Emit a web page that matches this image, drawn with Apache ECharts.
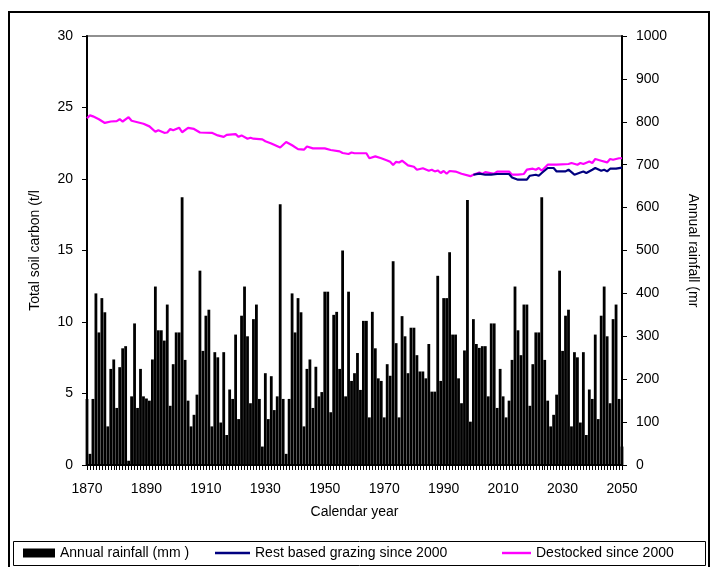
<!DOCTYPE html>
<html>
<head>
<meta charset="utf-8">
<script src="https://cdn.jsdelivr.net/npm/echarts@6/dist/echarts.min.js"></script>
<style>
html,body{margin:0;padding:0;background:#fff;}
#chart{width:714px;height:567px;}
</style>
</head>
<body>
<div id="chart"></div>
<script>
// 年份与降雨量 (mm)
var firstYear = 1870;
var rainfall = [
	154, 26, 154, 400, 309, 389, 356, 90, 224, 246,
	133, 228, 272, 277, 10, 160, 330, 133, 224, 160,
	155, 150, 246, 416, 314, 314, 290, 374, 138, 235,
	309, 309, 624, 245, 150, 90, 117, 164, 453, 266,
	348, 362, 90, 263, 251, 99, 263, 70, 176, 154,
	304, 107, 348, 416, 300, 144, 340, 374, 154, 43,
	214, 107, 207, 128, 160, 608, 154, 26, 154, 400,
	309, 389, 356, 90, 224, 246, 133, 229, 160, 170,
	404, 404, 123, 350, 357, 224, 500, 160, 404, 196,
	214, 261, 175, 336, 336, 111, 357, 272, 202, 196,
	111, 235, 208, 475, 284, 111, 347, 300, 214, 320,
	320, 256, 218, 218, 202, 282, 171, 171, 441, 196,
	389, 389, 496, 304, 304, 202, 144, 267, 618, 101,
	340, 282, 273, 277, 277, 160, 330, 330, 133, 224,
	160, 111, 150, 245, 416, 314, 256, 374, 374, 138,
	235, 309, 309, 624, 245, 150, 90, 117, 164, 453,
	266, 348, 362, 90, 263, 251, 99, 263, 70, 176,
	154, 304, 107, 348, 416, 300, 144, 340, 374, 154,
	43
];

// 土壤碳 (t/ha) —— 读图得到的点
var destockYears = [1870, 1871, 1872, 1874, 1876, 1878, 1880, 1881, 1882, 1884,
	1885, 1887, 1889, 1891, 1893, 1894, 1896, 1897, 1898, 1899,
	1901, 1902, 1904, 1906, 1908, 1912, 1914, 1916, 1917, 1920,
	1921, 1922, 1924, 1925, 1926, 1929, 1930, 1932, 1935, 1937,
	1939, 1941, 1943, 1944, 1946, 1950, 1952, 1955, 1956, 1958,
	1959, 1960, 1962, 1964, 1965, 1967, 1969, 1971, 1972, 1973,
	1974, 1975, 1976, 1978, 1980, 1981, 1983, 1985, 1986, 1987,
	1988, 1989, 1990, 1991, 1992, 1994, 1996, 1999, 2000, 2002,
	2003, 2004, 2007, 2008, 2012, 2013, 2015, 2017, 2018, 2020,
	2021, 2022, 2023, 2025, 2028, 2032, 2033, 2035, 2036, 2037,
	2039, 2040, 2041, 2043, 2045, 2046, 2047, 2049, 2050];
var destockCarbon = [24.25, 24.45, 24.38, 24.18, 23.92, 24.02, 24.05, 24.18, 24.02, 24.32,
	24.07, 23.97, 23.86, 23.68, 23.3, 23.41, 23.23, 23.25, 23.5, 23.41,
	23.59, 23.27, 23.57, 23.5, 23.25, 23.23, 23.05, 22.95, 23.09, 23.14,
	22.95, 23.05, 22.82, 22.89, 22.82, 22.77, 22.64, 22.48, 22.2, 22.59,
	22.36, 22.09, 22.05, 22.27, 22.14, 22.14, 22.03, 21.93, 21.82, 21.75,
	21.85, 21.8, 21.8, 21.8, 21.45, 21.58, 21.45, 21.3, 21.2, 20.98,
	21.2, 21.15, 21.28, 20.95, 20.86, 20.65, 20.75, 20.58, 20.65, 20.53,
	20.6, 20.42, 20.56, 20.37, 20.56, 20.52, 20.37, 20.2, 20.3, 20.45,
	20.35, 20.48, 20.37, 20.52, 20.52, 20.3, 20.3, 20.35, 20.65, 20.72,
	20.65, 20.77, 20.58, 21.0, 21.0, 21.05, 21.12, 21.0, 21.12, 21.05,
	21.22, 21.12, 21.4, 21.28, 21.16, 21.4, 21.35, 21.45, 21.45];

var restYears = [2000, 2002, 2004, 2006, 2008, 2012, 2013, 2015, 2018, 2019,
	2021, 2022, 2023, 2025, 2027, 2028, 2031, 2032, 2034, 2036,
	2037, 2038, 2040, 2041, 2043, 2044, 2045, 2046, 2048, 2050];
var restCarbon = [20.3, 20.38, 20.3, 20.3, 20.35, 20.35, 20.11, 19.95, 19.95, 20.23,
	20.3, 20.23, 20.42, 20.77, 20.77, 20.53, 20.53, 20.65, 20.3, 20.46,
	20.53, 20.42, 20.65, 20.77, 20.58, 20.65, 20.53, 20.72, 20.72, 20.8];

var FONT = "'Liberation Sans', Arial, sans-serif";

function pairs(xs, ys) {
	var out = [];
	for (var i = 0; i < xs.length; i++) {
		out.push([xs[i], ys[i]]);
	}
	return out;
}
//不要千位分隔符
function plainNum(v) {
	return String(v);
}

var rainData = [];
for (var i = 0; i < rainfall.length; i++) {
	rainData.push([firstYear + i, rainfall[i]]);
}

var myChart = echarts.init(document.getElementById('chart'), null, {renderer: 'canvas'});

var legendText = {fontFamily: FONT, fontSize: 14, color: '#000'};

var option = {
	animation: false,
	backgroundColor: '#fff',
	textStyle: {fontFamily: FONT, color: '#000'},
	grid: {
		left: 87, right: 92, top: 36, bottom: 102,
		show: true, borderColor: '#909090', borderWidth: 2, backgroundColor: 'transparent'
	},
	graphic: [
		{type: 'rect', shape: {x: 9, y: 12, width: 700, height: 580},
			style: {fill: 'none', stroke: '#000', lineWidth: 2}, silent: true},
		{type: 'rect', shape: {x: 13.5, y: 541.5, width: 692, height: 24},
			style: {fill: 'none', stroke: '#000', lineWidth: 1}, silent: true}
	],
	legend: [
		{left: 18, top: 541, itemWidth: 32, itemHeight: 9, itemGap: 0,
			textStyle: legendText,
			data: [{name: 'Annual rainfall (mm )', icon: 'rect'}]},
		{left: 210, top: 541, itemWidth: 35, itemHeight: 9, itemGap: 0,
			textStyle: legendText,
			data: [{name: 'Rest based grazing since 2000', icon: 'path://M0,10 L36,10 L36,12.5 L0,12.5 Z'}]},
		{left: 497, top: 541, itemWidth: 29, itemHeight: 9, itemGap: 0,
			textStyle: legendText,
			data: [{name: 'Destocked since 2000', icon: 'path://M0,10 L30,10 L30,12.5 L0,12.5 Z'}]}
	],
	xAxis: {
		type: 'value', min: 1870, max: 2050, interval: 20,
		name: 'Calendar year', nameLocation: 'middle', nameGap: 40,
		nameTextStyle: {fontFamily: FONT, fontSize: 14, color: '#000'},
		axisLine: {lineStyle: {color: '#000', width: 2}},
		axisTick: {show: true, length: 5, lineStyle: {color: '#000'}},
		minorTick: {show: true, splitNumber: 20, length: 5, lineStyle: {color: '#000'}},
		axisLabel: {fontFamily: FONT, fontSize: 14, color: '#000', margin: 17, formatter: plainNum},
		splitLine: {show: false}
	},
	yAxis: [
		{
			type: 'value', min: 0, max: 30, interval: 5, position: 'left',
			name: 'Total soil carbon (t/l', nameLocation: 'middle', nameRotate: 90, nameGap: 45,
			nameTextStyle: {fontFamily: FONT, fontSize: 14, color: '#000'},
			axisLine: {show: true, lineStyle: {color: '#000', width: 2}},
			axisTick: {show: true, length: 5, lineStyle: {color: '#000'}},
			axisLabel: {fontFamily: FONT, fontSize: 14, color: '#000', margin: 14, formatter: plainNum},
			splitLine: {show: false}
		},
		{
			type: 'value', min: 0, max: 1000, interval: 100, position: 'right',
			name: 'Annual rainfall (mr', nameLocation: 'middle', nameRotate: -90, nameGap: 64,
			nameTextStyle: {fontFamily: FONT, fontSize: 14, color: '#000'},
			axisLine: {show: true, lineStyle: {color: '#000', width: 2}},
			axisTick: {show: true, length: 5, lineStyle: {color: '#000'}},
			axisLabel: {fontFamily: FONT, fontSize: 14, color: '#000', margin: 14, formatter: plainNum},
			splitLine: {show: false}
		}
	],
	series: [
		{
			name: 'Annual rainfall (mm )', type: 'bar', yAxisIndex: 1,
			barWidth: 2.8, itemStyle: {color: '#000'}, data: rainData, z: 1
		},
		{
			name: 'Rest based grazing since 2000', type: 'line', yAxisIndex: 0,
			symbol: 'none', lineStyle: {color: '#000080', width: 2.2}, itemStyle: {color: '#000080'},
			data: pairs(restYears, restCarbon), z: 4
		},
		{
			name: 'Destocked since 2000', type: 'line', yAxisIndex: 0,
			symbol: 'none', lineStyle: {color: '#ff00ff', width: 2.2}, itemStyle: {color: '#ff00ff'},
			data: pairs(destockYears, destockCarbon), z: 3
		}
	]
};

myChart.setOption(option);
</script>
</body>
</html>
